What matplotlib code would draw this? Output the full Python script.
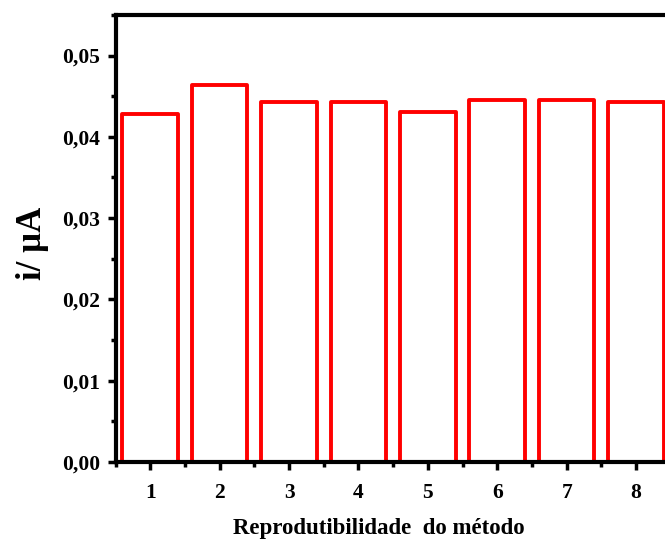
import numpy as np
import matplotlib
matplotlib.use("Agg")
import matplotlib.pyplot as plt
from matplotlib.ticker import FuncFormatter, MultipleLocator

# values
samples = [1, 2, 3, 4, 5, 6, 7, 8]
current = [0.0428, 0.0464, 0.0443, 0.0443, 0.0431, 0.0445, 0.0445, 0.0443]
yticks = [0.00, 0.01, 0.02, 0.03, 0.04, 0.05]

plt.rcParams['font.family'] = ['Liberation Serif', 'DejaVu Serif']
plt.rcParams['font.weight'] = 'bold'

fig = plt.figure(figsize=(6.65, 5.42), dpi=100)
ax = fig.add_axes([0.1737, 0.1476, 0.835, 0.825])

ax.bar(samples, current, width=0.8, facecolor='white', edgecolor='red',
       linewidth=2.8, joinstyle='round')

ax.set_xlim(0.5, 8.5)
ax.set_ylim(0, 0.055)
ax.set_xticks(samples)
ax.set_yticks(yticks)
ax.xaxis.set_minor_locator(MultipleLocator(0.5))
ax.yaxis.set_minor_locator(MultipleLocator(0.005))
ax.yaxis.set_major_formatter(FuncFormatter(lambda v, p: f"{v:.2f}".replace('.', ',')))

for s in ax.spines.values():
    s.set_linewidth(3)
ax.tick_params(which='major', direction='out', length=6, width=2.5, labelsize=15.5)
ax.tick_params(axis='x', which='major', pad=9)
ax.tick_params(axis='y', which='major', pad=5)
ax.tick_params(which='minor', direction='out', length=3.5, width=2.5)
for lab in ax.get_xticklabels() + ax.get_yticklabels():
    lab.set_fontweight('bold')

ax.set_ylabel("i/ µA", fontsize=25, fontweight='bold')
ax.set_xlabel("Reprodutibilidade  do método", fontsize=16.5, fontweight='bold')
# labels sit a bit off-centre in the original
ax.xaxis.set_label_coords(0.474, -0.126)
ax.yaxis.set_label_coords(-0.12, 0.488)

fig.savefig("out.png", dpi=100)
